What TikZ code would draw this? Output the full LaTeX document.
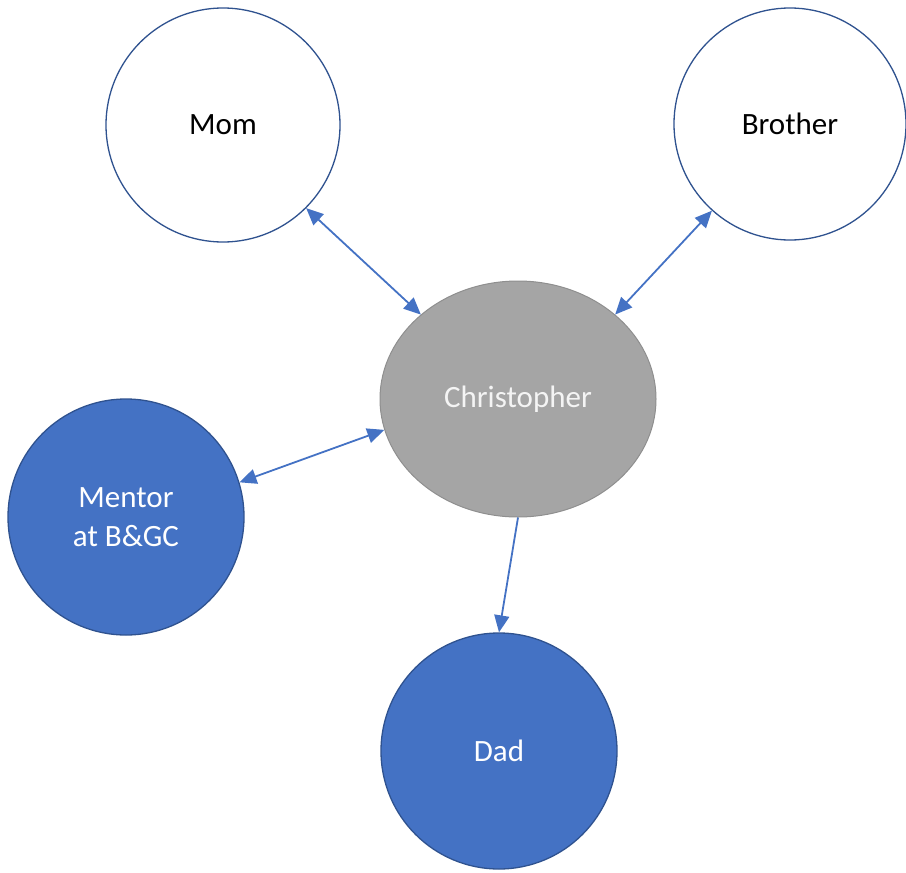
\documentclass[tikz,border=0pt]{standalone}
\usepackage{fontspec}
\setmainfont{Carlito}
\usetikzlibrary{arrows.meta,shapes.geometric}
\definecolor{accentblue}{HTML}{4472C4}
\definecolor{edgeblue}{HTML}{2F528F}
\definecolor{graypill}{HTML}{A5A5A5}
\definecolor{grayedge}{HTML}{8F8F8F}
\definecolor{softwhite}{HTML}{F4F4F4}
\begin{document}
\begin{tikzpicture}[x=1pt,y=-1pt,
  person/.style={circle,inner sep=0pt,line width=1.3pt,align=center,
    font=\fontsize{31}{39}\selectfont},
  openperson/.style={person,draw=edgeblue,fill=white,text=black},
  fullperson/.style={person,draw=edgeblue,fill=accentblue,text=white},
  link/.style={draw=accentblue,line width=1.8pt,{Triangle[length=17pt,width=15pt]}-{Triangle[length=17pt,width=15pt]}},
  onelink/.style={draw=accentblue,line width=1.8pt,-{Triangle[length=17pt,width=15pt]}}]
  \useasboundingbox (0,0) rectangle (906,873);
  \node[openperson,minimum size=234pt] (mom) at (223,125) {Mom};
  \node[openperson,minimum size=232pt] (brother) at (790,124) {Brother};
  \node[ellipse,inner sep=0pt,minimum width=276pt,minimum height=236pt,
    draw=grayedge,line width=1pt,fill=graypill,text=softwhite,
    font=\fontsize{31}{39}\selectfont] (chris) at (518,399) {Christopher};
  \node[fullperson,minimum size=236pt] (mentor) at (126,517) {Mentor\\at B\&GC};
  \node[fullperson,minimum size=236pt] (dad) at (499,751) {Dad};
  \draw[link] (mom.315) -- (chris.139);
  \draw[link] (brother.228) -- (chris.41);
  \draw[link] (mentor.17) -- (chris.193);
  \draw[onelink] (chris.south) -- (dad.north);
\end{tikzpicture}
\end{document}
